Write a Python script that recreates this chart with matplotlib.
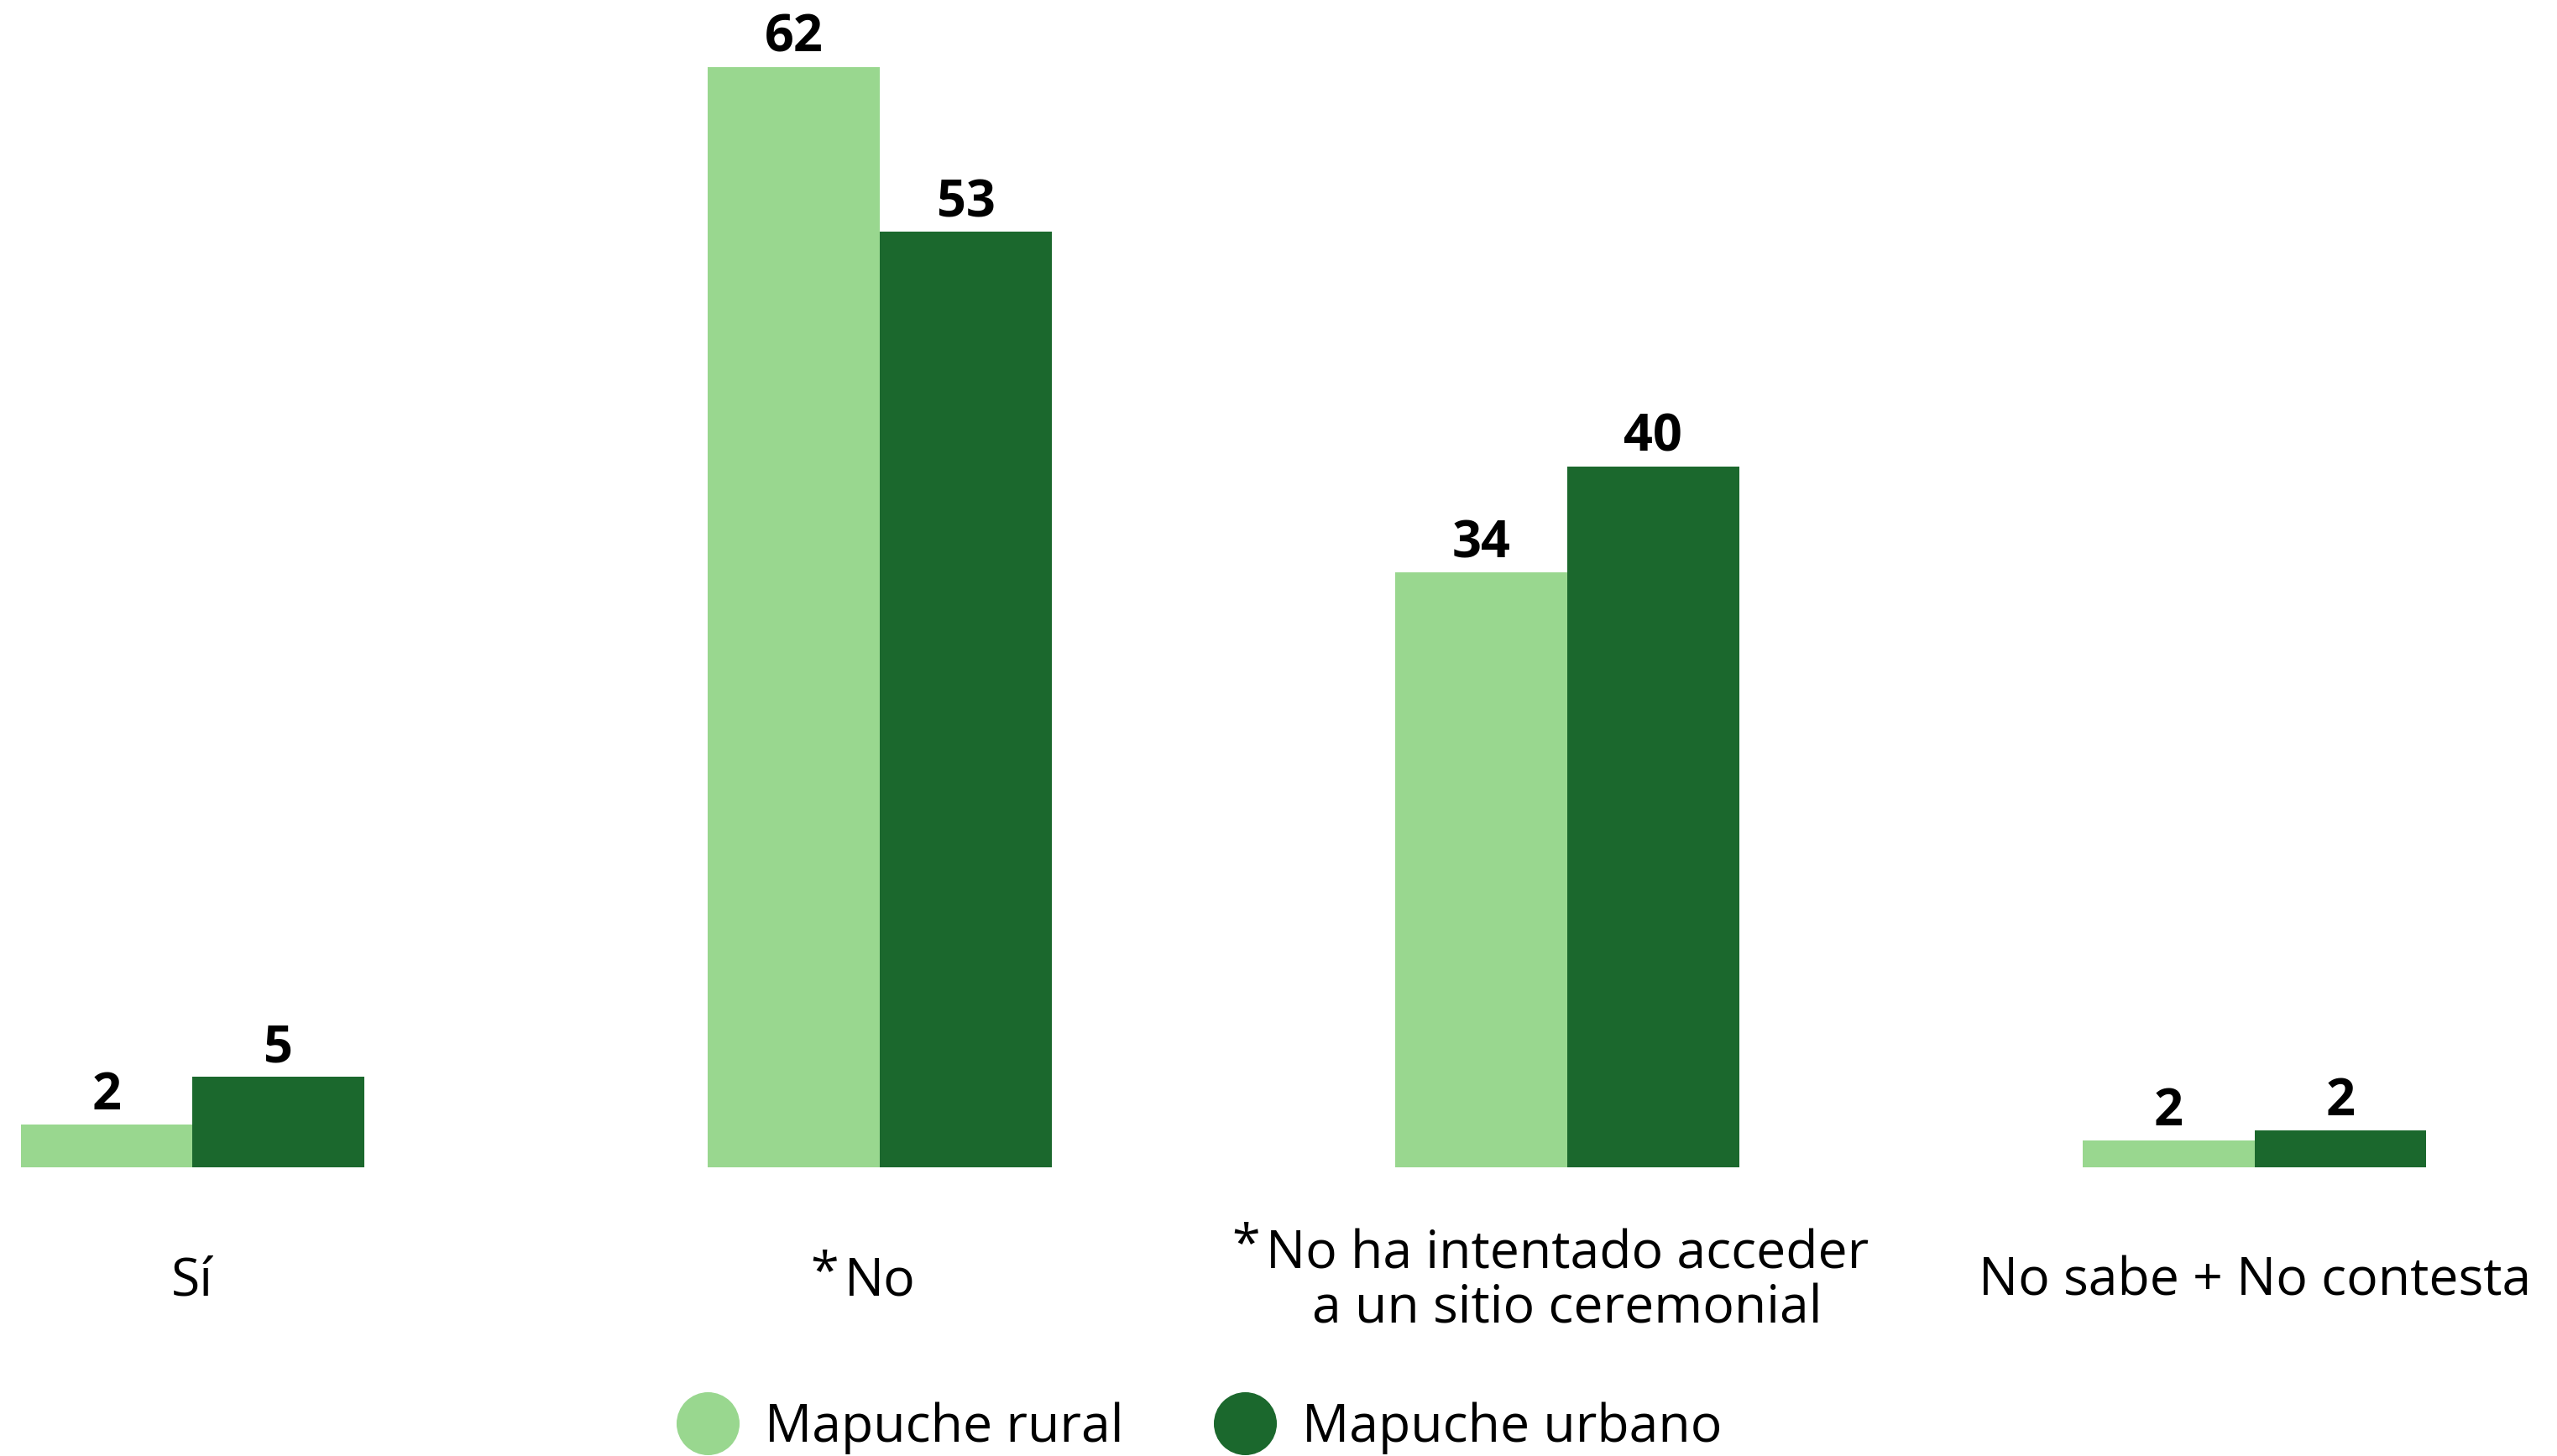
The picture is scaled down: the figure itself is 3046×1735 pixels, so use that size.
import matplotlib.pyplot as plt
from matplotlib.lines import Line2D

categorias = ["Sí", "No", "No ha intentado acceder\na un sitio ceremonial", "No sabe + No contesta"]
asterisco = [False, True, True, False]
rural = [2.4, 62.0, 33.5, 1.5]
urbano = [5.1, 52.7, 39.5, 2.1]
series = ["Mapuche rural", "Mapuche urbano"]

c_rural = "#99D78F"
c_urbano = "#1B682D"
fuente = "Open Sans"

fig = plt.figure(figsize=(30.46, 17.35), dpi=100)
ax = fig.add_axes([0, 344 / 1735, 1, 1391 / 1735])
ax.set_xlim(-0.28, 3.44)
ax.set_ylim(0, 65.77)
ax.axis("off")

w = 0.25
x = list(range(len(categorias)))
b1 = ax.bar([i - w / 2 for i in x], rural, w, color=c_rural)
b2 = ax.bar([i + w / 2 for i in x], urbano, w, color=c_urbano)

# etiquetas de valor
for barras in (b1, b2):
    for b in barras:
        v = b.get_height()
        ax.annotate("{:.0f}".format(v), (b.get_x() + b.get_width() / 2, v),
                    xytext=(0, 2), textcoords="offset points", ha="center", va="bottom",
                    fontsize=44, fontweight="bold", family=fuente, color="black")

# categorias debajo
for i, cat in enumerate(categorias):
    t = ax.text(i, -6.45, cat, ha="center", va="center", fontsize=45, family=fuente,
                linespacing=1.05, clip_on=False)
    if asterisco[i]:
        ax.annotate("*", xy=(0, 1), xycoords=t, xytext=(-5, 6), textcoords="offset points",
                    ha="right", va="top", fontsize=44, family=fuente)

handles = [Line2D([], [], marker="o", linestyle="", markersize=53, color=c) for c in (c_rural, c_urbano)]
fig.legend(handles, series, loc="center", bbox_to_anchor=(0.470, 0.019), ncol=2, frameon=False,
           prop={"family": fuente, "size": 45}, handlelength=1.0, handletextpad=0.6,
           columnspacing=1.8, borderpad=0)

fig.savefig("out.png", dpi=100, facecolor="white")
